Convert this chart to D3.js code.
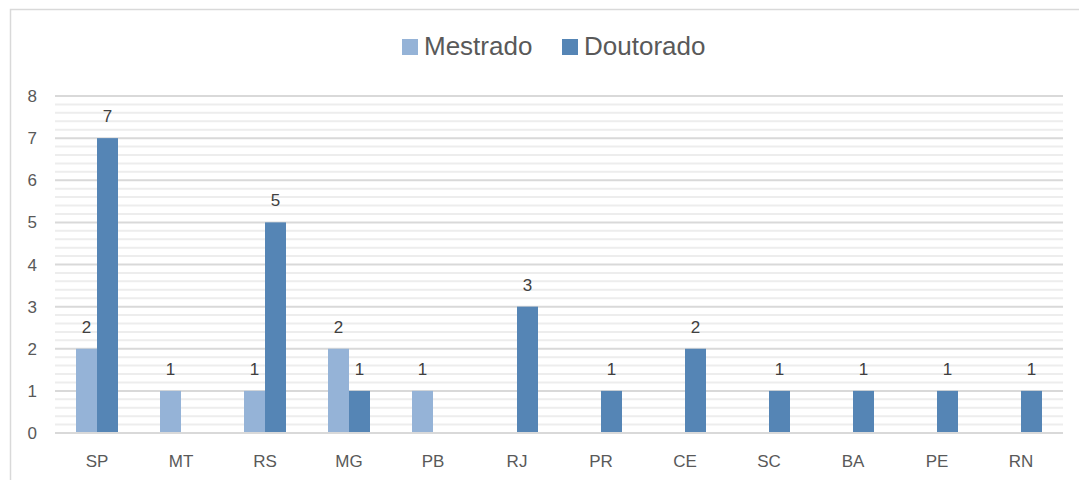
<!DOCTYPE html>
<html>
<head>
<meta charset="utf-8">
<script src="https://cdn.jsdelivr.net/npm/d3@7"></script>
<style>
  body { margin: 0; background: #fff; }
  text { font-family: "Liberation Sans", Arial, sans-serif; }
</style>
</head>
<body>
<div id="chart"></div>
<script>
// Data
const states = ["SP", "MT", "RS", "MG", "PB", "RJ", "PR", "CE", "SC", "BA", "PE", "RN"];
const mestrado = [2, 1, 1, 2, 1, 0, 0, 0, 0, 0, 0, 0];
const doutorado = [7, 0, 5, 1, 0, 3, 1, 2, 1, 1, 1, 1];
const seriesNames = ["Mestrado", "Doutorado"];
const yTicks = [0, 1, 2, 3, 4, 5, 6, 7, 8];

const W = 1079, H = 480;
const plot = { left: 55, right: 1063, top: 96, bottom: 433 };

const svg = d3.select("#chart").append("svg")
  .attr("width", W)
  .attr("height", H);

// chart border (only top and left visible)
svg.append("rect")
  .attr("x", 10.5).attr("y", 9.5)
  .attr("width", W + 20).attr("height", H + 20)
  .attr("fill", "none")
  .attr("stroke", "#d9d9d9")
  .attr("stroke-width", 1.5);

const x0 = d3.scaleBand()
  .domain(states)
  .range([plot.left, plot.right]);

// bars take half of each band, centred
const x1 = d3.scaleBand()
  .domain(seriesNames)
  .range([x0.bandwidth() * 0.25, x0.bandwidth() * 0.75]);

const y = d3.scaleLinear()
  .domain([0, 8])
  .range([plot.bottom, plot.top]);

const color = d3.scaleOrdinal()
  .domain(seriesNames)
  .range(["#95b3d7", "#5585b5"]);

// minor gridlines
const minor = d3.range(0, 8.001, 0.2).filter(v => Math.abs(v - Math.round(v)) > 1e-6);
svg.append("g").selectAll("line")
  .data(minor)
  .enter().append("line")
  .attr("x1", plot.left).attr("x2", plot.right)
  .attr("y1", d => y(d)).attr("y2", d => y(d))
  .attr("stroke", "#ededed")
  .attr("stroke-width", 2);

// major gridlines
svg.append("g").selectAll("line")
  .data(yTicks)
  .enter().append("line")
  .attr("x1", plot.left).attr("x2", plot.right)
  .attr("y1", d => y(d)).attr("y2", d => y(d))
  .attr("stroke", "#d9d9d9")
  .attr("stroke-width", 2);

// y axis labels
svg.append("g").selectAll("text")
  .data(yTicks)
  .enter().append("text")
  .attr("x", 37)
  .attr("y", d => y(d) + 6)
  .attr("text-anchor", "end")
  .attr("font-size", 17)
  .attr("fill", "#595959")
  .text(d => d);

// bars
const rows = states.map((s, i) => ({
  state: s,
  values: [
    { series: "Mestrado", value: mestrado[i] },
    { series: "Doutorado", value: doutorado[i] }
  ]
}));

const group = svg.selectAll(".group")
  .data(rows)
  .enter().append("g")
  .attr("class", "group")
  .attr("transform", d => `translate(${x0(d.state)},0)`);

group.selectAll("rect")
  .data(d => d.values.filter(v => v.value > 0))
  .enter().append("rect")
  .attr("x", d => x1(d.series))
  .attr("y", d => y(d.value))
  .attr("width", x1.bandwidth())
  .attr("height", d => y(0) - y(d.value))
  .attr("fill", d => color(d.series));

group.selectAll("text")
  .data(d => d.values.filter(v => v.value > 0))
  .enter().append("text")
  .attr("x", d => x1(d.series) + x1.bandwidth() / 2)
  .attr("y", d => y(d.value) - 16)
  .attr("text-anchor", "middle")
  .attr("font-size", 17)
  .attr("fill", "#404040")
  .text(d => d.value);

// baseline on top
svg.append("line")
  .attr("x1", plot.left).attr("x2", plot.right)
  .attr("y1", y(0)).attr("y2", y(0))
  .attr("stroke", "#d9d9d9")
  .attr("stroke-width", 2);

// x axis labels
svg.append("g").selectAll("text")
  .data(states)
  .enter().append("text")
  .attr("x", d => x0(d) + x0.bandwidth() / 2)
  .attr("y", 467)
  .attr("text-anchor", "middle")
  .attr("font-size", 17)
  .attr("fill", "#595959")
  .text(d => d);

// legend
const legendX = [402, 562];
seriesNames.forEach((name, i) => {
  svg.append("rect")
    .attr("x", legendX[i])
    .attr("y", 39)
    .attr("width", 16)
    .attr("height", 16)
    .attr("fill", color(name));
  svg.append("text")
    .attr("x", legendX[i] + 22)
    .attr("y", 55)
    .attr("font-size", 26)
    .attr("fill", "#595959")
    .text(name);
});
</script>
</body>
</html>
